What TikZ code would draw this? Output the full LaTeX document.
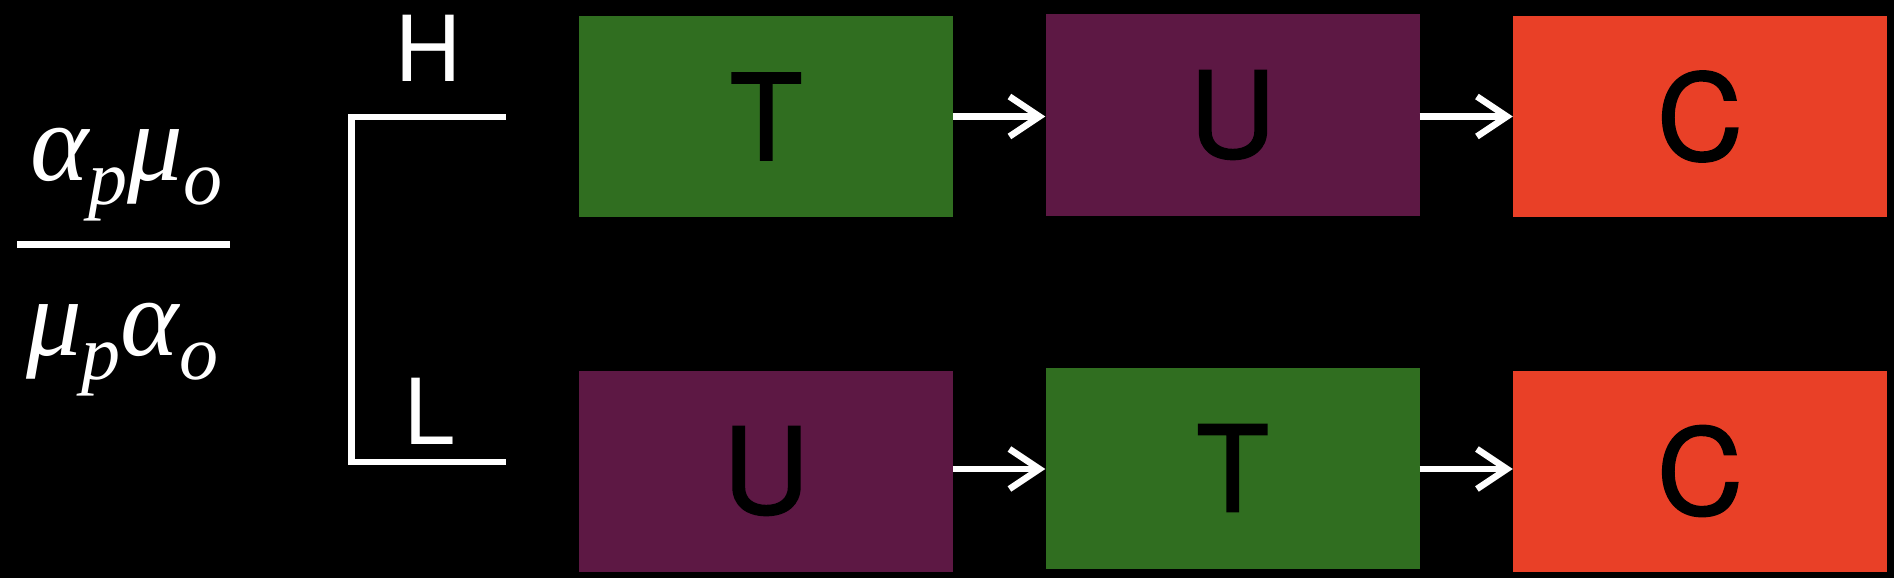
\documentclass[tikz,border=0pt]{standalone}
\usepackage{fontspec}
\setmainfont{TeX Gyre Heros}
\newfontfamily\boxfont{TeX Gyre Heros}[FakeBold=1.5]
\newfontfamily\myserifit{Liberation Serif}[UprightFont=* Italic]
\usetikzlibrary{arrows.meta}
\definecolor{tgreen}{RGB}{48,110,32}
\definecolor{upurple}{RGB}{93,24,68}
\definecolor{cred}{RGB}{233,64,39}
\tikzset{
  box/.style={minimum width=374pt, minimum height=201pt, inner sep=0pt, text=black,
    font=\boxfont\fontsize{119}{119}\selectfont},
  conn/.style={white, line width=6.5pt, -{Straight Barb[length=30pt,width=40pt]}},
  wline/.style={white, line width=6.5pt},
  lbl/.style={text=white, inner sep=0pt, anchor=base, font=\fontsize{91}{91}\selectfont},
  mth/.style={text=white, inner sep=0pt, anchor=base west, font=\myserifit\fontsize{111}{111}\selectfont}
}
\newcommand{\subsc}[1]{\raisebox{-24pt}{\fontsize{78}{78}\selectfont #1}}
\begin{document}
\begin{tikzpicture}[x=1pt,y=-1pt]
\fill[black] (0,0) rectangle (1894,578);
\useasboundingbox (0,0) rectangle (1894,578);
% fraction
\node[mth] (num) at (30,180) {α\subsc{p}μ\subsc{o}};
\node[mth] (den) at (26,355) {μ\subsc{p}α\subsc{o}};
\coordinate (fl) at (17,244.7);
\coordinate (fr) at (230,244.7);
\draw[white, line width=6.6pt] (fl) -- (fr);
% bracket
\coordinate (bt) at (506,117);
\coordinate (bb) at (506,462);
\draw[wline] (bt) -- (351.5,117) -- (351.5,462) -- (bb);
\node[lbl] (H) at (428,81.8) {H};
\node[lbl] (L) at (430,444) {L};
% boxes
\node[box, fill=tgreen] (t1) at (766,116.5) {T};
\node[box, fill=upurple] (u1) at (1232.5,115) {U};
\node[box, fill=cred] (c1) at (1700,116.5) {C};
\node[box, fill=upurple] (u2) at (766,471) {U};
\node[box, fill=tgreen] (t2) at (1232.5,468) {T};
\node[box, fill=cred] (c2) at (1700,471) {C};
% arrows
\draw[conn] (t1.east) -- (t1.east -| u1.west);
\draw[conn] (u1.east |- t1.east) -- (t1.east -| c1.west);
\draw[conn] ([yshift=2pt]u2.east) -- ([yshift=2pt]u2.east -| t2.west);
\draw[conn] ([yshift=2pt]u2.east -| t2.east) -- ([yshift=2pt]u2.east -| c2.west);
\end{tikzpicture}
\end{document}
